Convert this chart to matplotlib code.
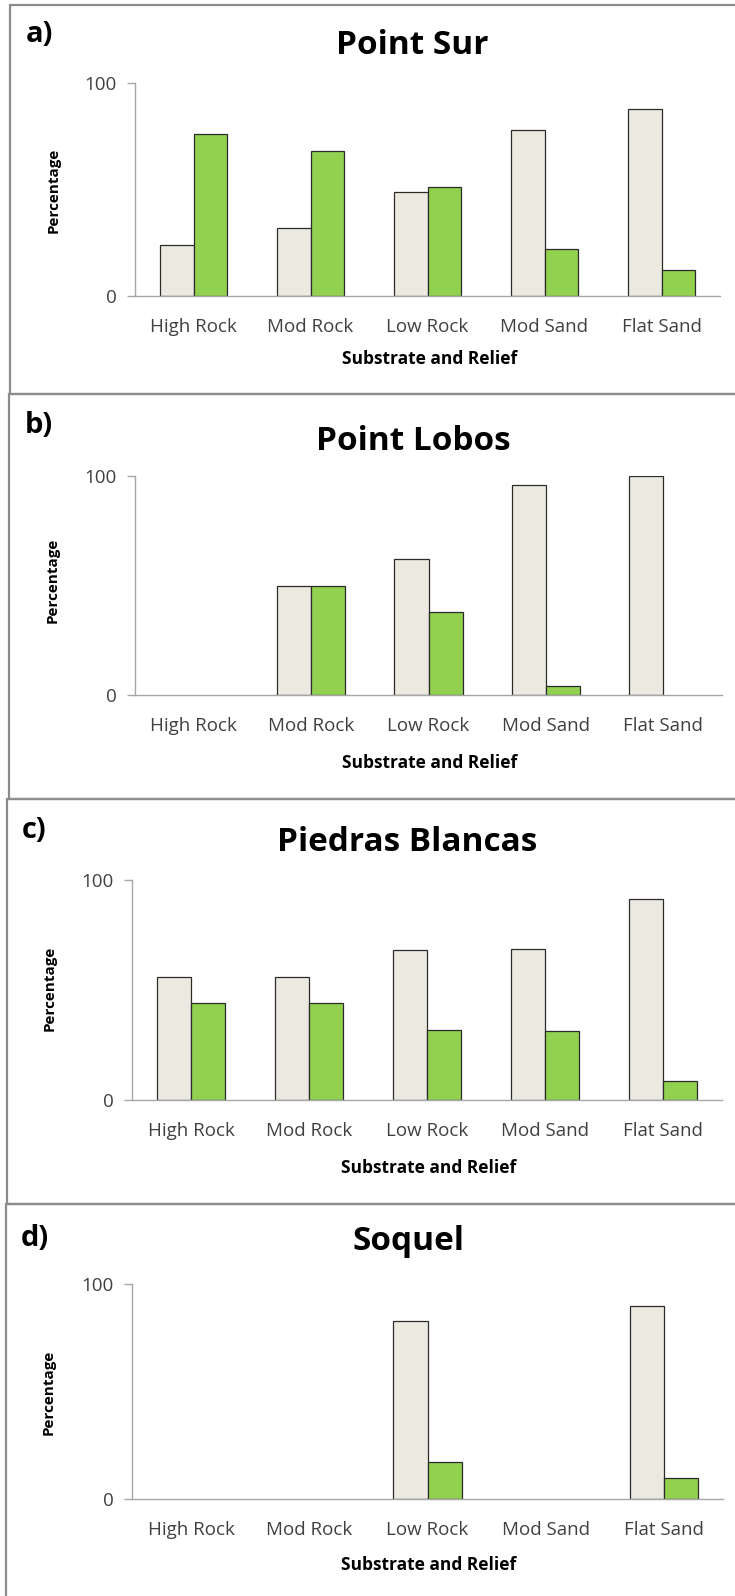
import numpy as np
import matplotlib
matplotlib.use("Agg")
import matplotlib.pyplot as plt
from matplotlib.patches import Rectangle

plt.rcParams['font.family'] = ['Open Sans', 'DejaVu Sans']

# Datos
categorias = ["High Rock", "Mod Rock", "Low Rock", "Mod Sand", "Flat Sand"]
sitios = ["Point Sur", "Point Lobos", "Piedras Blancas", "Soquel"]
etiquetas_panel = ["a)", "b)", "c)", "d)"]

point_sur_claro = [24, 32, 49, 78, 88]
point_sur_verde = [76, 68, 51, 22, 12]
point_lobos_claro = [0, 50, 62, 96, 100]
point_lobos_verde = [0, 50, 38, 4, 0]
piedras_claro = [56, 56, 68, 68.5, 91.5]
piedras_verde = [44, 44, 32, 31.5, 8.5]
soquel_claro = [0, 0, 83, 0, 90]
soquel_verde = [0, 0, 17, 0, 10]

series_claro = [point_sur_claro, point_lobos_claro, piedras_claro, soquel_claro]
series_verde = [point_sur_verde, point_lobos_verde, piedras_verde, soquel_verde]

# Colores
color_claro = "#ECEAE0"
color_verde = "#92D050"
color_borde_barra = "#2b2b2b"
color_eje = "#a6a6a6"
color_texto_ticks = "#404040"
color_marco = "#8c8c8c"

# Figura en pixeles
W, H = 735, 1596
fig = plt.figure(figsize=(W / 100, H / 100), dpi=100)

def fx(x):
    return x / W

def fy(y):
    return 1 - y / H

# Marcos de cada panel (izq, arriba, abajo) en px
marcos = [(10, 5, 394), (9, 394, 799), (7, 799, 1204), (6, 1204, 1640)]
# Ejes (izq, der, arriba, abajo) en px
ejes_px = [(135, 720, 83, 296), (135, 722, 476, 695), (132, 722, 880, 1100), (132, 723, 1284, 1499)]
titulos_px = [(412, 45), (413, 441), (407, 842), (409, 1242)]
letras_px = [(26, 34), (25, 425), (22, 830), (21, 1238)]
ylabel_px = [(54, 190), (53, 580), (50, 988), (49, 1392)]
xlabel_px = [(430, 359), (430, 763), (429, 1168), (429, 1565)]

ancho = 0.29
x = np.arange(len(categorias))

for i in range(4):
    ml, mt, mb = marcos[i]
    fig.patches.append(Rectangle((fx(ml), fy(mb)), fx(W + 20 - ml), (mb - mt) / H,
                                 transform=fig.transFigure, fill=False,
                                 edgecolor=color_marco, lw=1.6, zorder=0))

    l, r, t, b = ejes_px[i]
    ax = fig.add_axes([fx(l), fy(b), (r - l) / W, (b - t) / H])
    claro = np.array(series_claro[i], dtype=float)
    verde = np.array(series_verde[i], dtype=float)
    claro = np.where(claro > 0, claro, np.nan)
    verde = np.where(verde > 0, verde, np.nan)
    ax.bar(x - ancho / 2, claro, ancho, color=color_claro, edgecolor=color_borde_barra, lw=0.9, zorder=3)
    ax.bar(x + ancho / 2, verde, ancho, color=color_verde, edgecolor=color_borde_barra, lw=0.9, zorder=3)

    ax.set_xlim(-0.5, len(categorias) - 0.5)
    ax.set_ylim(0, 100)
    ax.set_yticks([0, 100])
    ax.set_xticks(x)
    ax.set_xticklabels(categorias)
    for s in ["top", "right"]:
        ax.spines[s].set_visible(False)
    for s in ["left", "bottom"]:
        ax.spines[s].set_color(color_eje)
        ax.spines[s].set_linewidth(1.0)
        ax.spines[s].set_zorder(4)
    ax.tick_params(axis="x", length=0, pad=16, labelsize=13.5, labelcolor=color_texto_ticks)
    ax.tick_params(axis="y", length=6, width=1.0, color=color_eje, pad=7,
                   labelsize=13.5, labelcolor=color_texto_ticks)
    ax.set_facecolor("none")

    tx, ty = titulos_px[i]
    fig.text(fx(tx), fy(ty), sitios[i], ha="center", va="center", fontsize=24, fontweight="bold")
    lx, ly = letras_px[i]
    fig.text(fx(lx), fy(ly), etiquetas_panel[i], ha="left", va="center", fontsize=21, fontweight="bold")
    yx, yy = ylabel_px[i]
    fig.text(fx(yx), fy(yy), "Percentage", ha="center", va="center", rotation=90,
             fontsize=11, fontweight="bold")
    xx, xy = xlabel_px[i]
    fig.text(fx(xx), fy(xy), "Substrate and Relief", ha="center", va="center",
             fontsize=12.5, fontweight="bold")

fig.savefig("out.png", dpi=100)
